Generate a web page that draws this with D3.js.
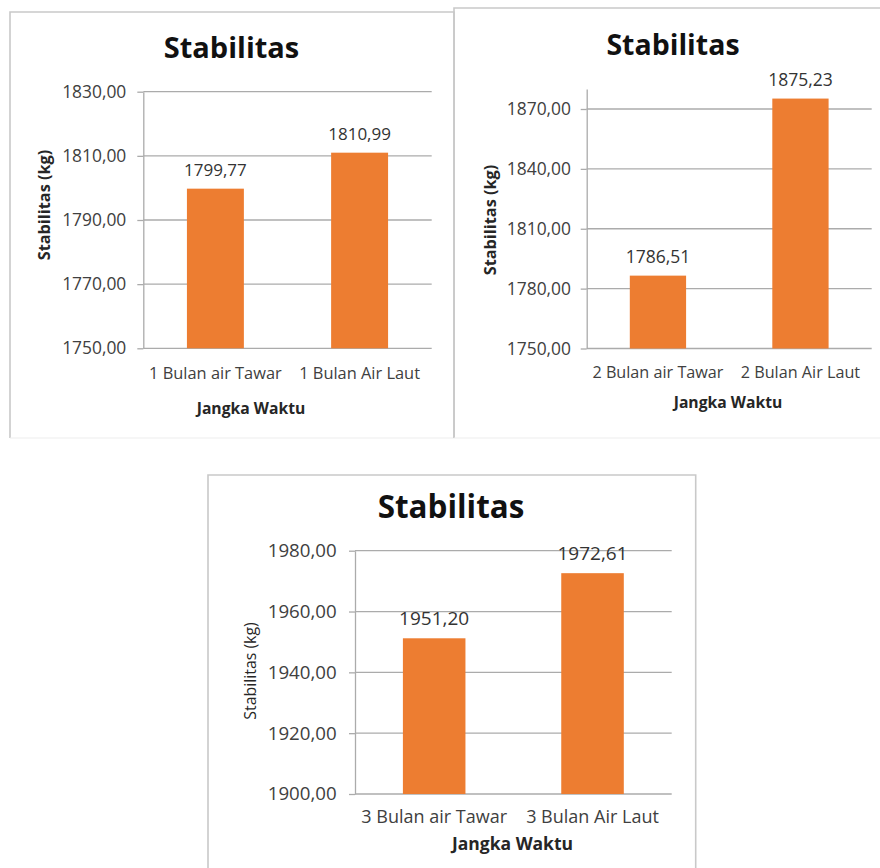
<!DOCTYPE html>
<html>
<head>
<meta charset="utf-8">
<script src="https://cdn.jsdelivr.net/npm/d3@7"></script>
<style>
  html, body { margin: 0; padding: 0; background: #fff; }
  svg { display: block; font-family: "Open Sans", "DejaVu Sans", sans-serif; }
</style>
</head>
<body>
<svg id="chart" width="880" height="868"></svg>
<script>
// Stabilitas per jangka waktu perendaman
const title = "Stabilitas";
const yTitle = "Stabilitas (kg)";
const xTitle = "Jangka Waktu";

const categories1 = ["1 Bulan air Tawar", "1 Bulan Air Laut"];
const values1 = [1799.77, 1810.99];
const ticks1 = [1750, 1770, 1790, 1810, 1830];
const domain1 = [1750, 1830];

const categories2 = ["2 Bulan air Tawar", "2 Bulan Air Laut"];
const values2 = [1786.51, 1875.23];
const ticks2 = [1750, 1780, 1810, 1840, 1870];
const domain2 = [1750, 1880];

const categories3 = ["3 Bulan air Tawar", "3 Bulan Air Laut"];
const values3 = [1951.20, 1972.61];
const ticks3 = [1900, 1920, 1940, 1960, 1980];
const domain3 = [1900, 1980];

const BAR = "#ED7D31";
const GRID = "#ABABAB";
const FRAME = "#C9C9C9";

const idLocale = d3.formatLocale({ decimal: ",", thousands: ".", grouping: [3], currency: ["", ""] });
const fmt = idLocale.format(".2f");

const svg = d3.select("#chart");

function drawPanel(p) {
  const g = svg.append("g");

  // frame (open at the bottom where it leaves the page)
  g.append("path")
    .attr("d", `M${p.frame.x},${p.frame.y + p.frame.h}V${p.frame.y}H${p.frame.x + p.frame.w}` +
               (p.frame.right ? `V${p.frame.y + p.frame.h}` : ""))
    .attr("fill", "none").attr("stroke", FRAME).attr("stroke-width", 1.6);
  if (p.frame.bottom) {
    g.append("line")
      .attr("x1", p.frame.x).attr("x2", p.frame.x + p.frame.w)
      .attr("y1", p.frame.y + p.frame.h).attr("y2", p.frame.y + p.frame.h)
      .attr("stroke", "#EDEDED").attr("stroke-width", 1);
  }

  const x = d3.scaleBand().domain(p.categories).range([p.x0, p.x1]).padding(0);
  const y = d3.scaleLinear().domain(p.domain).range([p.yBottom, p.yTop]);
  const barW = x.bandwidth() * 0.395;

  // horizontal gridlines
  g.append("g").selectAll("line").data(p.ticks).join("line")
    .attr("x1", p.x0).attr("x2", p.x1)
    .attr("y1", d => y(d)).attr("y2", d => y(d))
    .attr("stroke", GRID).attr("stroke-width", 1.3);

  // value axis
  const axis = d3.axisLeft(y).tickValues(p.ticks).tickFormat(fmt)
    .tickSize(6).tickSizeOuter(0).tickPadding(p.tickPad);
  const ag = g.append("g").attr("transform", `translate(${p.x0},0)`).call(axis);
  ag.select(".domain").attr("stroke", GRID).attr("stroke-width", 1.3);
  ag.selectAll(".tick line").attr("stroke", GRID).attr("stroke-width", 1.3);
  ag.selectAll(".tick text")
    .attr("fill", "#404040").attr("font-size", p.fs.tick)
    .attr("font-family", "Open Sans");

  // bars
  g.append("g").selectAll("rect").data(p.values).join("rect")
    .attr("x", (d, i) => x(p.categories[i]) + x.bandwidth() / 2 - barW / 2)
    .attr("width", barW)
    .attr("y", d => y(d))
    .attr("height", d => y(p.domain[0]) - y(d))
    .attr("fill", BAR);

  // value labels
  g.append("g").selectAll("text").data(p.values).join("text")
    .attr("x", (d, i) => x(p.categories[i]) + x.bandwidth() / 2)
    .attr("y", d => y(d) - 13)
    .attr("text-anchor", "middle")
    .attr("fill", "#333")
    .attr("font-size", p.fs.label)
    .text(d => fmt(d));

  // category labels
  g.append("g").selectAll("text").data(p.categories).join("text")
    .attr("x", d => x(d) + x.bandwidth() / 2)
    .attr("y", p.catY)
    .attr("text-anchor", "middle")
    .attr("fill", "#404040")
    .attr("font-size", p.fs.cat)
    .text(d => d);

  // chart title
  g.append("text")
    .attr("x", p.titleX).attr("y", p.titleY)
    .attr("text-anchor", "middle")
    .attr("font-weight", 700).attr("font-size", p.fs.title)
    .attr("fill", "#111")
    .text(title);

  // axis titles
  g.append("text")
    .attr("transform", `translate(${p.yTitleX},${p.yTitleY}) rotate(-90)`)
    .attr("text-anchor", "middle").attr("dy", "0.35em")
    .attr("font-weight", p.yTitleWeight).attr("font-size", p.fs.yTitle)
    .attr("fill", "#262626")
    .text(yTitle);

  g.append("text")
    .attr("x", p.xTitleX).attr("y", p.xTitleY)
    .attr("text-anchor", "middle")
    .attr("font-weight", 700).attr("font-size", p.fs.xTitle)
    .attr("fill", "#262626")
    .text(xTitle);
}

drawPanel({
  frame: { x: 10, y: 12, w: 444, h: 426, right: true, bottom: true },
  categories: categories1, values: values1, ticks: ticks1, domain: domain1,
  x0: 143.3, x1: 431.7, yBottom: 348.3, yTop: 91.7, tickPad: 11,
  titleX: 231.5, titleY: 58, yTitleX: 44, yTitleY: 205, yTitleWeight: 700,
  catY: 379, xTitleX: 251, xTitleY: 414,
  fs: { title: 29, tick: 17.4, label: 17, cat: 16.4, yTitle: 16.3, xTitle: 15.7 }
});

drawPanel({
  frame: { x: 454, y: 8, w: 440, h: 430, right: false, bottom: true },
  categories: categories2, values: values2, ticks: ticks2, domain: domain2,
  x0: 586.7, x1: 871.7, yBottom: 348.5, yTop: 89.05, tickPad: 9.7,
  titleX: 673, titleY: 55, yTitleX: 490, yTitleY: 220, yTitleWeight: 700,
  catY: 378, xTitleX: 728, xTitleY: 408,
  fs: { title: 28.5, tick: 17.4, label: 17.5, cat: 16.2, yTitle: 16.3, xTitle: 15.7 }
});

drawPanel({
  frame: { x: 208, y: 475, w: 487.7, h: 400, right: true, bottom: false },
  categories: categories3, values: values3, ticks: ticks3, domain: domain3,
  x0: 355, x1: 671.7, yBottom: 794, yTop: 550.7, tickPad: 12.3,
  titleX: 451, titleY: 518, yTitleX: 250, yTitleY: 671, yTitleWeight: 400,
  catY: 823, xTitleX: 512.5, xTitleY: 850,
  fs: { title: 31.4, tick: 18.7, label: 19, cat: 18, yTitle: 15.9, xTitle: 17.5 }
});
</script>
</body>
</html>
